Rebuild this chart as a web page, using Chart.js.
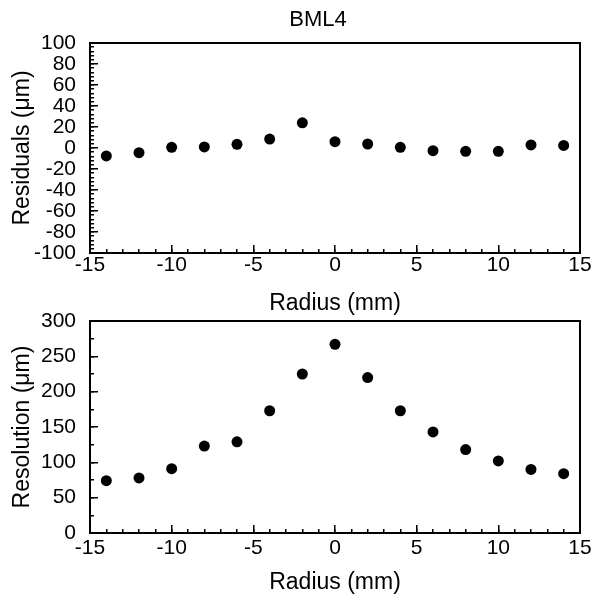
<!DOCTYPE html>
<html>
<head>
<meta charset="utf-8">
<script src="https://cdn.jsdelivr.net/npm/chart.js@4/dist/chart.umd.min.js"></script>
<style>
  body { margin: 0; background: #fff; }
  #wrap { position: relative; width: 595px; height: 599px; }
  #wrap canvas { position: absolute; left: 0; top: 0; }
</style>
</head>
<body>
<div id="wrap">
  <canvas id="topChart" width="595" height="599"></canvas>
  <canvas id="bottomChart" width="595" height="599"></canvas>
</div>
<script>
// データ
const radius = [-14, -12, -10, -8, -6, -4, -2, 0, 2, 4, 6, 8, 10, 12, 14];
const residuals = [-7.5, -4.5, 0.6, 1, 3.5, 8.5, 24, 6, 3.8, 0.6, -2.5, -3.2, -3.2, 2.9, 2.5];
const resolution = [74, 78, 91, 123, 129, 173, 225, 267, 220, 173, 143, 118, 102, 90, 84];

const plotTitle = 'BML4';
const xTitle = 'Radius (mm)';
const topYTitle = 'Residuals (μm)';
const bottomYTitle = 'Resolution (μm)';

Chart.defaults.font.family = '"Liberation Sans", Arial, sans-serif';
Chart.defaults.color = '#000';

// 枠線
const frame = {
  id: 'frame',
  afterDraw(chart) {
    const a = chart.chartArea;
    const ctx = chart.ctx;
    ctx.save();
    ctx.strokeStyle = '#000';
    ctx.lineWidth = 2;
    ctx.strokeRect(a.left, a.top, a.right - a.left, a.bottom - a.top);
    ctx.restore();
  }
};

// 上のタイトル
const topLabel = {
  id: 'topLabel',
  afterDraw(chart, args, opts) {
    if (!opts.text) return;
    const a = chart.chartArea;
    const ctx = chart.ctx;
    ctx.save();
    ctx.font = '22px "Liberation Sans", Arial, sans-serif';
    ctx.fillStyle = '#000';
    ctx.textAlign = 'center';
    ctx.textBaseline = 'middle';
    ctx.fillText(opts.text, (a.left + a.right) / 2 - 17, a.top - 23);
    ctx.restore();
  }
};

// ラベルのはみ出し分の余白を無視する
function noOverflow(s) {
  s.paddingLeft = 0;
  s.paddingRight = 0;
  s.paddingTop = 0;
  s.paddingBottom = 0;
}

function makeChart(id, values, yMin, yMax, yStep, yMinorStep, yTitle, pad, xHeight, xPad, title) {
  const pts = radius.map((r, i) => ({x: r, y: values[i]}));
  return new Chart(document.getElementById(id), {
    type: 'scatter',
    data: {
      datasets: [{
        data: pts,
        backgroundColor: '#000',
        borderWidth: 0,
        pointRadius: 5.5,
        pointHoverRadius: 5.5,
        showLine: false
      }]
    },
    options: {
      responsive: false,
      animation: false,
      events: [],
      layout: {padding: pad},
      plugins: {
        legend: {display: false},
        tooltip: {enabled: false},
        topLabel: {text: title}
      },
      scales: {
        x: {
          type: 'linear', position: 'bottom', weight: 1,
          min: -15, max: 15,
          border: {display: false},
          grid: {drawOnChartArea: false, tickLength: -8, lineWidth: 1.5, color: '#000'},
          ticks: {stepSize: 5, autoSkip: false, maxRotation: 0, padding: xPad, font: {size: 21}},
          title: {display: true, text: xTitle, font: {size: 23}, padding: {top: 0, bottom: 0}},
          afterFit(s) { s.height = xHeight; noOverflow(s); }
        },
        xMinor: {
          type: 'linear', position: 'bottom', weight: 0,
          min: -15, max: 15,
          border: {display: false},
          grid: {drawOnChartArea: false, tickLength: -4, lineWidth: 1.5, color: '#000'},
          ticks: {stepSize: 1, autoSkip: false, display: false},
          afterFit(s) { s.height = 0; noOverflow(s); }
        },
        y: {
          type: 'linear', position: 'left', weight: 1,
          min: yMin, max: yMax,
          border: {display: false},
          grid: {drawOnChartArea: false, tickLength: -8, lineWidth: 1.5, color: '#000'},
          ticks: {stepSize: yStep, autoSkip: false, padding: 22, font: {size: 21}},
          title: {display: true, text: yTitle, font: {size: 23}, padding: {top: 9, bottom: 0}},
          afterFit(s) { s.width = 90; noOverflow(s); }
        },
        yMinor: {
          type: 'linear', position: 'left', weight: 0,
          min: yMin, max: yMax,
          border: {display: false},
          grid: {drawOnChartArea: false, tickLength: -4, lineWidth: 1.5, color: '#000'},
          ticks: {stepSize: yMinorStep, autoSkip: false, display: false},
          afterFit(s) { s.width = 0; noOverflow(s); }
        }
      }
    },
    plugins: [frame, topLabel]
  });
}

makeChart('topChart', residuals, -100, 100, 20, 4, topYTitle,
  {left: 0, right: 15, top: 43, bottom: 282}, 64, 8, plotTitle);
makeChart('bottomChart', resolution, 0, 300, 50, 25, bottomYTitle,
  {left: 0, right: 15, top: 321, bottom: 3}, 63, 11, '');
</script>
</body>
</html>
